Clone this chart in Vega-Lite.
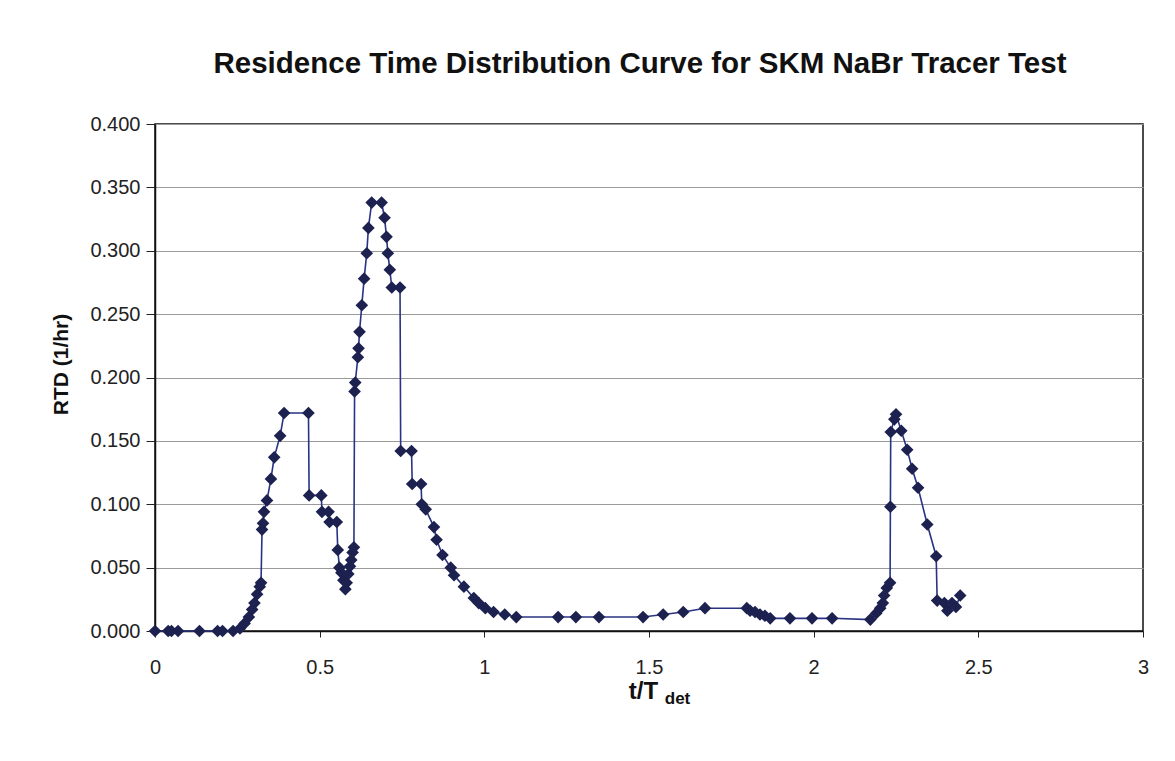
{
  "$schema": "https://vega.github.io/schema/vega-lite/v6.json",
  "autosize": "none",
  "width": 988,
  "height": 507,
  "padding": {"left": 155, "top": 124, "right": 32, "bottom": 130},
  "background": "white",
  "title": {
    "text": "Residence Time Distribution Curve for SKM NaBr Tracer Test",
    "font": "Liberation Sans",
    "fontSize": 29.5,
    "fontWeight": "bold",
    "color": "#111111",
    "anchor": "middle",
    "dx": -9,
    "offset": 35
  },
  "data": {
    "values": [
      {"t": 0, "rtd": 0},
      {"t": 0.04, "rtd": 0},
      {"t": 0.05, "rtd": 0},
      {"t": 0.07, "rtd": 0},
      {"t": 0.135, "rtd": 0},
      {"t": 0.19, "rtd": 0},
      {"t": 0.205, "rtd": 0},
      {"t": 0.237, "rtd": 0},
      {"t": 0.258, "rtd": 0.002},
      {"t": 0.272, "rtd": 0.006},
      {"t": 0.285, "rtd": 0.011},
      {"t": 0.295, "rtd": 0.017},
      {"t": 0.302, "rtd": 0.022},
      {"t": 0.31, "rtd": 0.029},
      {"t": 0.318, "rtd": 0.035},
      {"t": 0.322, "rtd": 0.038},
      {"t": 0.325, "rtd": 0.08},
      {"t": 0.328, "rtd": 0.085},
      {"t": 0.331, "rtd": 0.094},
      {"t": 0.34, "rtd": 0.103},
      {"t": 0.352, "rtd": 0.12},
      {"t": 0.362, "rtd": 0.137},
      {"t": 0.38, "rtd": 0.154},
      {"t": 0.392, "rtd": 0.172},
      {"t": 0.466, "rtd": 0.172},
      {"t": 0.468, "rtd": 0.107},
      {"t": 0.505, "rtd": 0.107},
      {"t": 0.507, "rtd": 0.094},
      {"t": 0.527, "rtd": 0.094},
      {"t": 0.53, "rtd": 0.086},
      {"t": 0.552, "rtd": 0.086},
      {"t": 0.555, "rtd": 0.064},
      {"t": 0.56, "rtd": 0.05},
      {"t": 0.566, "rtd": 0.046},
      {"t": 0.572, "rtd": 0.04},
      {"t": 0.578, "rtd": 0.033},
      {"t": 0.582, "rtd": 0.038},
      {"t": 0.587, "rtd": 0.045},
      {"t": 0.592, "rtd": 0.051},
      {"t": 0.596, "rtd": 0.056},
      {"t": 0.6, "rtd": 0.062},
      {"t": 0.604, "rtd": 0.066},
      {"t": 0.606, "rtd": 0.189},
      {"t": 0.608, "rtd": 0.196},
      {"t": 0.616, "rtd": 0.216},
      {"t": 0.618, "rtd": 0.223},
      {"t": 0.621, "rtd": 0.236},
      {"t": 0.628, "rtd": 0.257},
      {"t": 0.635, "rtd": 0.278},
      {"t": 0.643, "rtd": 0.298},
      {"t": 0.648, "rtd": 0.318},
      {"t": 0.658, "rtd": 0.338},
      {"t": 0.688, "rtd": 0.338},
      {"t": 0.697, "rtd": 0.326},
      {"t": 0.703, "rtd": 0.311},
      {"t": 0.707, "rtd": 0.298},
      {"t": 0.713, "rtd": 0.285},
      {"t": 0.719, "rtd": 0.271},
      {"t": 0.744, "rtd": 0.271},
      {"t": 0.746, "rtd": 0.142},
      {"t": 0.779, "rtd": 0.142},
      {"t": 0.781, "rtd": 0.116},
      {"t": 0.808, "rtd": 0.116},
      {"t": 0.81, "rtd": 0.1},
      {"t": 0.822, "rtd": 0.096},
      {"t": 0.847, "rtd": 0.082},
      {"t": 0.855, "rtd": 0.072},
      {"t": 0.873, "rtd": 0.06},
      {"t": 0.898, "rtd": 0.05},
      {"t": 0.908, "rtd": 0.044},
      {"t": 0.938, "rtd": 0.035},
      {"t": 0.968, "rtd": 0.026},
      {"t": 0.983, "rtd": 0.022},
      {"t": 1.003, "rtd": 0.018},
      {"t": 1.028, "rtd": 0.015},
      {"t": 1.062, "rtd": 0.013},
      {"t": 1.097, "rtd": 0.011},
      {"t": 1.224, "rtd": 0.011},
      {"t": 1.278, "rtd": 0.011},
      {"t": 1.348, "rtd": 0.011},
      {"t": 1.482, "rtd": 0.011},
      {"t": 1.543, "rtd": 0.013},
      {"t": 1.604, "rtd": 0.015},
      {"t": 1.67, "rtd": 0.018},
      {"t": 1.797, "rtd": 0.018},
      {"t": 1.807, "rtd": 0.016},
      {"t": 1.822, "rtd": 0.015},
      {"t": 1.837, "rtd": 0.013},
      {"t": 1.852, "rtd": 0.012},
      {"t": 1.868, "rtd": 0.01},
      {"t": 1.928, "rtd": 0.01},
      {"t": 1.995, "rtd": 0.01},
      {"t": 2.056, "rtd": 0.01},
      {"t": 2.172, "rtd": 0.009},
      {"t": 2.19, "rtd": 0.014},
      {"t": 2.202, "rtd": 0.018},
      {"t": 2.21, "rtd": 0.022},
      {"t": 2.214, "rtd": 0.028},
      {"t": 2.222, "rtd": 0.034},
      {"t": 2.232, "rtd": 0.038},
      {"t": 2.233, "rtd": 0.098},
      {"t": 2.234, "rtd": 0.157},
      {"t": 2.245, "rtd": 0.167},
      {"t": 2.25, "rtd": 0.171},
      {"t": 2.266, "rtd": 0.158},
      {"t": 2.284, "rtd": 0.143},
      {"t": 2.299, "rtd": 0.128},
      {"t": 2.317, "rtd": 0.113},
      {"t": 2.345, "rtd": 0.084},
      {"t": 2.372, "rtd": 0.059},
      {"t": 2.375, "rtd": 0.024},
      {"t": 2.397, "rtd": 0.022},
      {"t": 2.406, "rtd": 0.016},
      {"t": 2.42, "rtd": 0.022},
      {"t": 2.432, "rtd": 0.019},
      {"t": 2.445, "rtd": 0.028}
    ]
  },
  "encoding": {
    "y": {
      "field": "rtd",
      "type": "quantitative",
      "scale": {"domain": [0, 0.4], "nice": false, "zero": true},
      "axis": {
        "title": "RTD (1/hr)",
        "format": ".3f",
        "values": [0, 0.05, 0.1, 0.15, 0.2, 0.25, 0.3, 0.35, 0.4],
        "labelFont": "Liberation Sans",
        "labelFontSize": 20,
        "labelColor": "#222222",
        "labelPadding": 6,
        "labelFlush": false,
        "tickSize": 9,
        "tickColor": "#222222",
        "domainColor": "#111111",
        "domainWidth": 1.5,
        "gridColor": "#9a9a9a",
        "gridWidth": 1,
        "titleFont": "Liberation Sans",
        "titleFontSize": 21,
        "titleFontWeight": "bold",
        "titleColor": "#111111",
        "titleAlign": "center",
        "titleBaseline": "alphabetic",
        "titleX": -88,
        "titleY": 240
      }
    }
  },
  "layer": [
    {
      "mark": {"type": "line", "color": "#2a3383", "strokeWidth": 1.6},
      "encoding": {
        "x": {
          "field": "t",
          "type": "quantitative",
          "scale": {"domain": [0, 3], "nice": false},
          "axis": {
            "title": "t/T",
            "values": [0, 0.5, 1, 1.5, 2, 2.5, 3],
            "format": "~g",
            "labelFlush": false,
            "grid": false,
            "labelFont": "Liberation Sans",
            "labelFontSize": 20,
            "labelColor": "#222222",
            "labelPadding": 20,
            "tickSize": 6,
            "tickColor": "#222222",
            "domainColor": "#111111",
            "domainWidth": 1.5,
            "titleFont": "Liberation Sans",
            "titleFontSize": 24,
            "titleFontWeight": "bold",
            "titleColor": "#111111",
            "titleAnchor": "start",
            "titleAlign": "center",
            "titleX": 488,
            "titleY": 67,
            "titleBaseline": "alphabetic"
          }
        },
        "order": {"value": null}
      }
    },
    {
      "mark": {"type": "point", "shape": "diamond", "filled": true, "size": 160, "color": "#1c2150", "opacity": 1},
      "encoding": {
        "x": {
          "field": "t",
          "type": "quantitative",
          "axis": {
            "title": "det",
            "orient": "bottom",
            "labels": false,
            "ticks": false,
            "domain": false,
            "grid": false,
            "titleFont": "Liberation Sans",
            "titleFontSize": 17,
            "titleFontWeight": "bold",
            "titleColor": "#111111",
            "titleAnchor": "start",
            "titleAlign": "center",
            "titleX": 522,
            "titleY": 72,
            "titleBaseline": "alphabetic"
          }
        }
      }
    }
  ],
  "resolve": {"axis": {"x": "independent"}},
  "config": {
    "view": {"stroke": "#111111", "strokeWidth": 1.5}
  }
}
